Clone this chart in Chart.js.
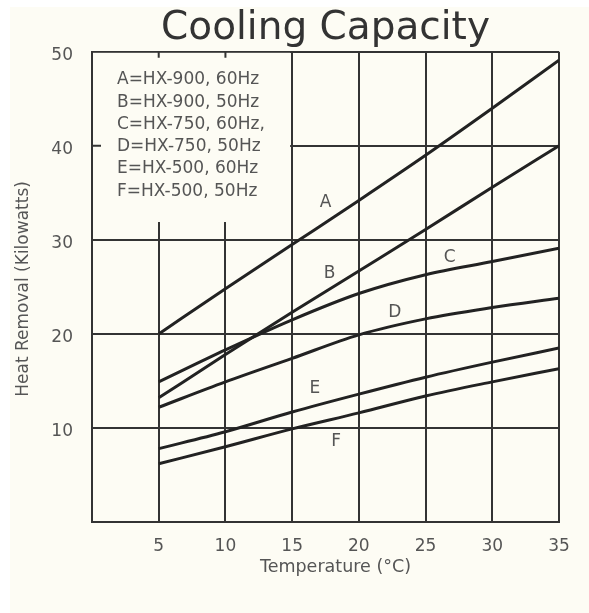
<!DOCTYPE html>
<html>
<head>
<meta charset="utf-8">
<script src="https://cdn.jsdelivr.net/npm/chart.js@4.4.1/dist/chart.umd.min.js"></script>
<style>
  html, body { margin: 0; padding: 0; background: #ffffff; }
  #wrap { width: 589px; height: 613px; position: relative; }
</style>
</head>
<body>
<div id="wrap"><canvas id="coolingChart"></canvas></div>
<script>
// temperatures (°C) where the curves were read
const temperatures = [5, 10, 15, 20, 25, 30, 35];

// heat removal (kW) per unit
const seriesA = [20.0, 24.8, 29.5, 34.2, 39.0, 44.0, 49.1];
const seriesB = [13.2, 17.8, 22.3, 26.7, 31.1, 35.6, 40.0];
const seriesC = [14.9, 18.3, 21.5, 24.3, 26.3, 27.7, 29.1];
const seriesD = [12.2, 14.9, 17.4, 19.9, 21.6, 22.8, 23.8];
const seriesE = [7.8, 9.6, 11.7, 13.6, 15.4, 17.0, 18.5];
const seriesF = [6.2, 8.0, 9.9, 11.6, 13.4, 14.9, 16.3];

const seriesNames = ['A', 'B', 'C', 'D', 'E', 'F'];
const legendLines = [
    'A=HX-900, 60Hz',
    'B=HX-900, 50Hz',
    'C=HX-750, 60Hz,',
    'D=HX-750, 50Hz',
    'E=HX-500, 60Hz',
    'F=HX-500, 50Hz'
];

// where the letter tags sit on the plot (temperature, kW)
const tagX = [17.5, 17.8, 26.8, 22.7, 16.7, 18.3];
const tagY = [34.0, 26.4, 28.1, 22.3, 14.2, 8.5];

const xTicks = [5, 10, 15, 20, 25, 30, 35];
const yTicks = [10, 20, 30, 40, 50];

const chartTitle = 'Cooling Capacity';
const xTitle = 'Temperature (°C)';
const yTitle = 'Heat Removal (Kilowatts)';

const ink = '#222222';
const gridInk = '#333333';
const textInk = '#555555';
const paper = '#fdfcf4';
const fontFamily = '"DejaVu Sans", "Liberation Sans", Arial, sans-serif';

const allSeries = [seriesA, seriesB, seriesC, seriesD, seriesE, seriesF];

const datasets = allSeries.map((vals, i) => ({
    label: seriesNames[i],
    data: vals.map((v, j) => ({ x: temperatures[j], y: v })),
    borderColor: ink,
    borderWidth: 3,
    pointRadius: 0,
    fill: false,
    cubicInterpolationMode: 'monotone'
}));

// paper background with the thin white margin at top/left
const paperPlugin = {
    id: 'paper',
    beforeDraw(chart) {
        const { ctx, width, height } = chart;
        ctx.save();
        ctx.fillStyle = '#ffffff';
        ctx.fillRect(0, 0, width, height);
        ctx.fillStyle = paper;
        ctx.fillRect(10, 7, width - 10, height - 7);
        ctx.restore();
    }
};

// key box in the upper left corner, axis titles, letter tags
const notesPlugin = {
    id: 'notes',
    beforeDatasetsDraw(chart) {
        const { ctx, chartArea } = chart;
        const xs = chart.scales.x, ys = chart.scales.y;
        const boxRight = xs.getPixelForValue(14.85);
        const boxBottom = ys.getPixelForValue(31.9);
        ctx.save();
        ctx.fillStyle = paper;
        ctx.fillRect(chartArea.left + 1, chartArea.top + 1, boxRight - chartArea.left - 1, boxBottom - chartArea.top - 1);

        // little ticks left on the box edges
        ctx.strokeStyle = gridInk;
        ctx.lineWidth = 2;
        ctx.beginPath();
        [5, 10].forEach(t => {
            const px = xs.getPixelForValue(t);
            ctx.moveTo(px, chartArea.top);
            ctx.lineTo(px, chartArea.top + 6);
        });
        const py = ys.getPixelForValue(40);
        ctx.moveTo(chartArea.left, py);
        ctx.lineTo(chartArea.left + 9, py);
        ctx.stroke();

        ctx.fillStyle = textInk;
        ctx.font = '17px ' + fontFamily;
        ctx.textAlign = 'left';
        ctx.textBaseline = 'middle';
        legendLines.forEach((line, i) => {
            ctx.fillText(line, chartArea.left + 25, chartArea.top + 28 + i * 22.3);
        });
        ctx.restore();
    },
    afterDatasetsDraw(chart) {
        const { ctx, chartArea } = chart;
        const xs = chart.scales.x, ys = chart.scales.y;
        ctx.save();
        ctx.fillStyle = textInk;
        ctx.font = '17px ' + fontFamily;
        ctx.textAlign = 'center';
        ctx.textBaseline = 'middle';
        seriesNames.forEach((name, i) => {
            ctx.fillText(name, xs.getPixelForValue(tagX[i]), ys.getPixelForValue(tagY[i]));
        });

        ctx.font = '17.5px ' + fontFamily;
        ctx.fillText(xTitle, chartArea.left + (chartArea.right - chartArea.left) / 2 + 10, 567);

        ctx.translate(24, (chartArea.top + chartArea.bottom) / 2 + 2);
        ctx.rotate(-Math.PI / 2);
        ctx.font = '17px ' + fontFamily;
        ctx.fillText(yTitle, 0, 0);
        ctx.restore();
    }
};

const ctx = document.getElementById('coolingChart').getContext('2d');
const coolingChart = new Chart(ctx, {
    type: 'line',
    data: { datasets },
    options: {
        responsive: true,
        maintainAspectRatio: false,
        animation: false,
        layout: { padding: { left: 0, right: 30, top: 0, bottom: 0 } },
        scales: {
            x: {
                type: 'linear',
                min: 0,
                max: 35,
                afterFit: s => { s.height = 91; },
                afterBuildTicks: s => { s.ticks = [0].concat(xTicks).map(v => ({ value: v })); },
                ticks: {
                    padding: 14,
                    color: textInk,
                    font: { family: fontFamily, size: 17 },
                    callback: v => (xTicks.includes(v) ? String(v) : '')
                },
                grid: { color: gridInk, lineWidth: 2, drawTicks: false },
                border: { color: gridInk, width: 2 }
            },
            y: {
                min: 0,
                max: 50,
                afterFit: s => { s.width = 92; },
                afterBuildTicks: s => { s.ticks = [0].concat(yTicks).map(v => ({ value: v })); },
                ticks: {
                    padding: 19,
                    labelOffset: 4,
                    color: textInk,
                    font: { family: fontFamily, size: 17 },
                    callback: v => (yTicks.includes(v) ? String(v) : '')
                },
                grid: { color: gridInk, lineWidth: 2, drawTicks: false },
                border: { color: gridInk, width: 2 }
            }
        },
        plugins: {
            legend: { display: false },
            tooltip: { enabled: false },
            title: {
                display: true,
                text: chartTitle,
                fullSize: false,
                color: '#333333',
                font: { family: fontFamily, size: 39, weight: 'normal' },
                padding: { top: 5, bottom: 0 }
            }
        }
    },
    plugins: [paperPlugin, notesPlugin]
});
</script>
</body>
</html>
